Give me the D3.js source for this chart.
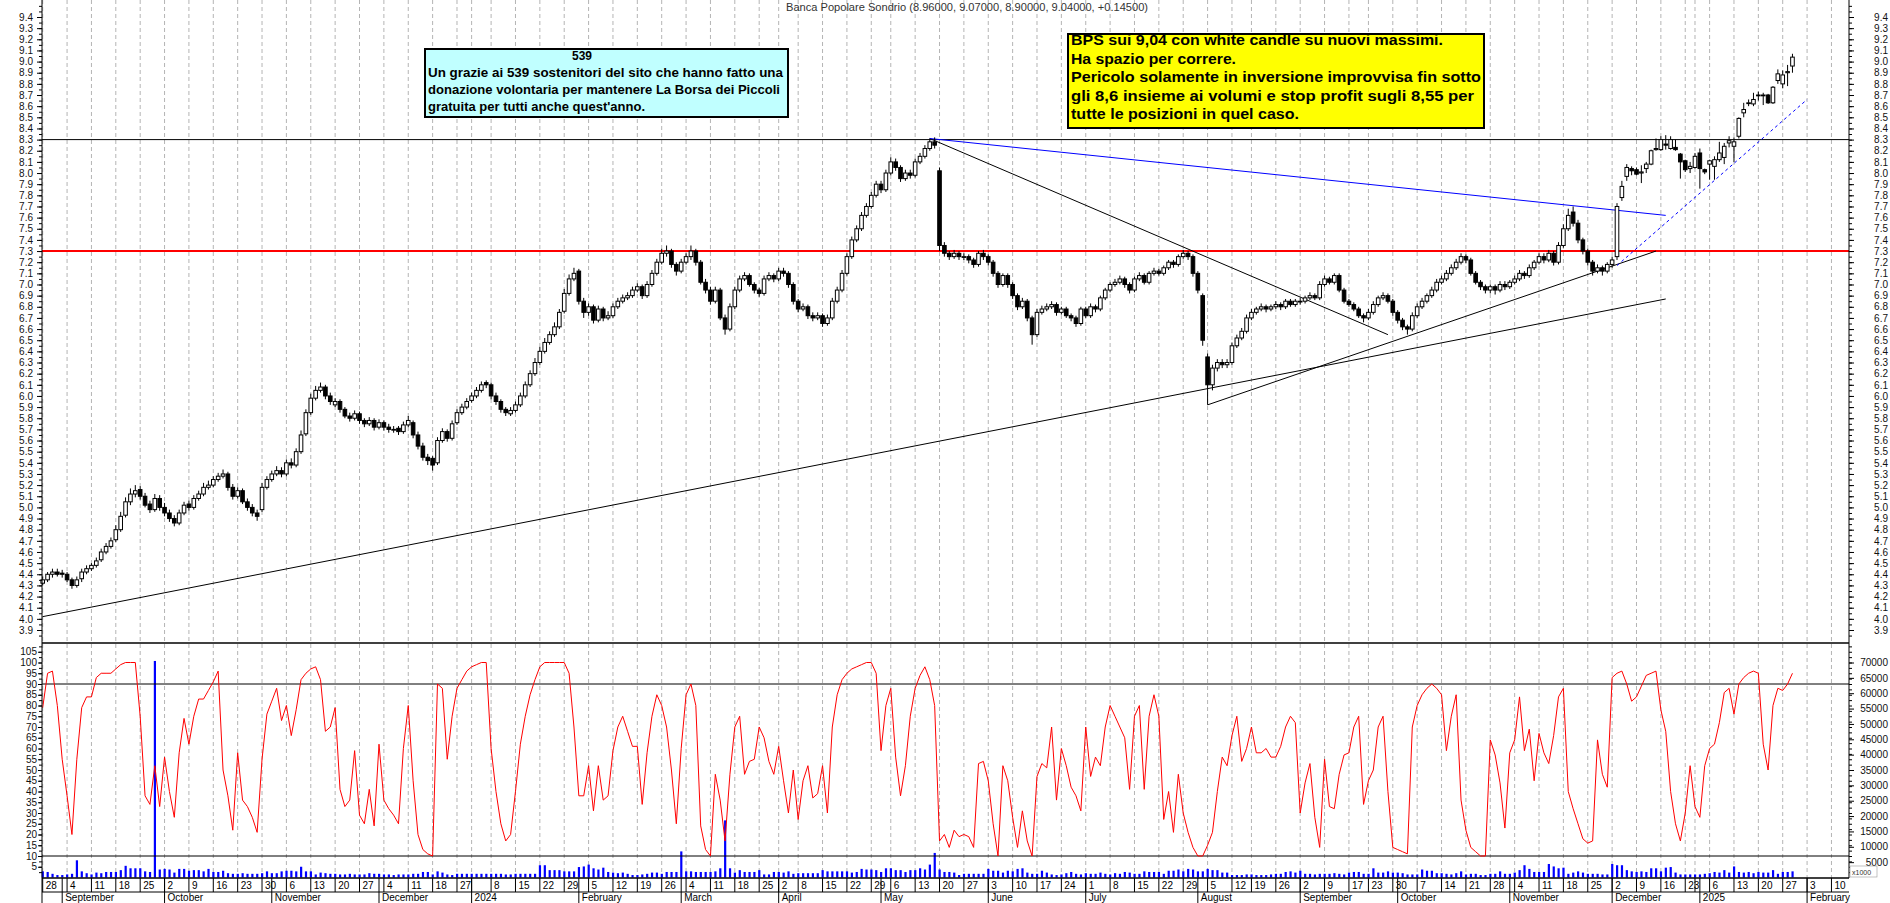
<!DOCTYPE html>
<html>
<head>
<meta charset="utf-8">
<title>Banca Popolare Sondrio</title>
<script src="https://cdn.jsdelivr.net/npm/d3@7"></script>
<style>
  body { margin: 0; background: #fff; }
  svg { display: block; font-family: "Liberation Sans", Arial, sans-serif; }
</style>
</head>
<body>
<svg id="chart" width="1890" height="903"></svg>
<script>
// ---------- data ----------
const firstDay = "2023-08-28", lastDay = "2025-02-13";
// Borsa closed (plus one day missing in the feed)
const closedDays = ["2023-12-25","2023-12-26","2024-01-01","2024-03-29","2024-04-01","2024-05-01",
  "2024-08-15","2024-09-16","2024-12-24","2024-12-25","2024-12-26","2024-12-31","2025-01-01"];

const open = [
 4.32,4.35,4.40,4.42,4.41,4.40,4.35,4.30,4.36,4.42,4.45,4.48,4.53,4.60,4.65,4.71,4.80,4.93,5.05,5.12,
 5.16,5.10,5.03,4.98,5.08,5.00,4.95,4.90,4.86,4.95,5.03,5.00,5.08,5.12,5.18,5.20,5.25,5.28,5.30,5.18,
 5.10,5.15,5.05,5.00,4.95,4.98,5.18,5.25,5.30,5.33,5.30,5.40,5.38,5.50,5.66,5.85,5.98,6.05,6.08,6.00,
 5.92,5.95,5.88,5.82,5.80,5.84,5.78,5.75,5.78,5.72,5.76,5.72,5.70,5.71,5.68,5.74,5.76,5.65,5.55,5.45,
 5.44,5.40,5.60,5.68,5.62,5.76,5.85,5.90,5.96,6.00,6.05,6.12,6.10,6.00,5.95,5.88,5.84,5.87,5.92,6.00,
 6.10,6.20,6.30,6.40,6.48,6.55,6.62,6.76,6.92,7.05,7.12,6.85,6.75,6.80,6.68,6.78,6.70,6.72,6.80,6.85,
 6.88,6.90,6.95,6.98,6.90,7.00,7.10,7.20,7.28,7.30,7.18,7.12,7.20,7.25,7.30,7.20,7.02,6.95,6.85,6.95,
 6.70,6.60,6.80,6.95,7.05,7.08,7.00,6.95,6.92,7.05,7.08,7.05,7.12,7.10,7.00,6.85,6.78,6.80,6.72,6.70,
 6.72,6.65,6.70,6.85,6.95,7.10,7.25,7.40,7.50,7.62,7.70,7.80,7.90,7.85,8.00,8.10,8.05,7.95,8.00,7.98,
 8.10,8.15,8.22,8.28,8.02,7.35,7.28,7.25,7.28,7.25,7.25,7.22,7.18,7.28,7.25,7.20,7.10,7.00,7.08,7.00,
 6.90,6.80,6.85,6.70,6.55,6.75,6.78,6.80,6.82,6.75,6.78,6.72,6.70,6.65,6.78,6.72,6.80,6.78,6.88,6.95,
 7.00,7.02,7.05,7.00,6.95,7.05,7.08,7.02,7.10,7.12,7.10,7.15,7.20,7.18,7.25,7.28,7.25,7.10,6.90,6.35,
 6.10,6.25,6.30,6.28,6.30,6.45,6.52,6.58,6.70,6.75,6.78,6.80,6.78,6.80,6.82,6.80,6.85,6.82,6.85,6.85,
 6.88,6.90,6.88,7.00,7.05,7.02,7.08,6.95,6.85,6.82,6.78,6.72,6.70,6.75,6.82,6.88,6.90,6.85,6.75,6.68,
 6.62,6.60,6.72,6.80,6.85,6.90,6.95,7.02,7.05,7.10,7.15,7.20,7.25,7.22,7.10,7.02,6.98,6.95,6.98,6.95,
 7.00,6.98,7.02,7.05,7.10,7.08,7.15,7.20,7.25,7.22,7.28,7.20,7.35,7.50,7.65,7.55,7.40,7.30,7.20,7.12,
 7.15,7.12,7.18,7.25,7.78,7.97,8.04,8.03,8.00,8.04,8.08,8.21,8.21,8.26,8.22,8.23,8.17,8.11,8.04,8.05,
 8.18,8.03,8.08,8.06,8.12,8.14,8.27,8.24,8.33,8.54,8.63,8.62,8.70,8.70,8.70,8.63,8.83,8.80,8.90,8.96];

const high = [
 4.38,4.42,4.45,4.45,4.44,4.42,4.37,4.38,4.45,4.48,4.50,4.55,4.63,4.68,4.73,4.84,4.96,5.09,5.17,5.20,
 5.19,5.13,5.06,5.12,5.11,5.04,4.98,4.93,4.98,5.05,5.06,5.11,5.15,5.22,5.24,5.28,5.31,5.34,5.32,5.21,
 5.18,5.17,5.08,5.03,4.98,5.22,5.28,5.33,5.37,5.36,5.43,5.44,5.53,5.69,5.88,6.02,6.09,6.12,6.10,6.03,
 5.98,5.97,5.90,5.85,5.87,5.86,5.80,5.81,5.80,5.79,5.78,5.75,5.73,5.73,5.77,5.82,5.78,5.68,5.58,5.48,
 5.46,5.63,5.71,5.70,5.78,5.88,5.93,5.98,6.03,6.08,6.13,6.14,6.12,6.03,5.97,5.90,5.90,5.95,6.03,6.13,
 6.23,6.34,6.44,6.52,6.58,6.66,6.78,6.96,7.09,7.15,7.14,6.88,6.83,6.82,6.81,6.80,6.76,6.83,6.88,6.91,
 6.93,6.98,7.01,7.00,7.03,7.13,7.23,7.32,7.35,7.32,7.20,7.23,7.28,7.35,7.32,7.22,7.05,6.98,6.98,6.97,
 6.73,6.83,6.98,7.08,7.11,7.10,7.02,6.97,7.08,7.11,7.10,7.15,7.15,7.12,7.02,6.87,6.83,6.82,6.75,6.75,
 6.74,6.73,6.88,6.98,7.13,7.28,7.43,7.53,7.65,7.73,7.83,7.93,7.93,8.03,8.14,8.13,8.07,8.03,8.03,8.13,
 8.18,8.25,8.31,8.32,8.05,7.38,7.30,7.31,7.30,7.28,7.27,7.24,7.30,7.31,7.27,7.22,7.12,7.10,7.10,7.02,
 6.92,6.88,6.87,6.72,6.78,6.81,6.83,6.85,6.84,6.80,6.80,6.74,6.72,6.80,6.80,6.83,6.82,6.90,6.97,7.02,
 7.05,7.08,7.07,7.02,7.07,7.11,7.10,7.12,7.15,7.14,7.17,7.22,7.22,7.27,7.31,7.30,7.27,7.12,6.92,6.38,
 6.28,6.33,6.33,6.33,6.48,6.55,6.61,6.73,6.78,6.80,6.83,6.82,6.82,6.85,6.84,6.87,6.87,6.87,6.88,6.90,
 6.93,6.92,7.03,7.08,7.07,7.10,7.10,6.97,6.87,6.84,6.80,6.74,6.78,6.85,6.90,6.93,6.92,6.87,6.77,6.70,
 6.64,6.75,6.83,6.88,6.92,6.98,7.05,7.08,7.13,7.18,7.23,7.28,7.27,7.24,7.12,7.04,7.00,7.00,7.00,7.03,
 7.03,7.04,7.08,7.13,7.12,7.18,7.22,7.28,7.28,7.31,7.30,7.38,7.54,7.68,7.70,7.58,7.42,7.32,7.22,7.18,
 7.17,7.20,7.25,7.73,7.93,8.08,8.06,8.05,8.07,8.10,8.21,8.31,8.33,8.34,8.33,8.30,8.18,8.12,8.10,8.18,
 8.22,8.04,8.12,8.15,8.28,8.27,8.33,8.32,8.50,8.63,8.66,8.72,8.73,8.72,8.71,8.78,8.93,8.92,8.97,9.07];

const low = [
 4.30,4.33,4.37,4.38,4.37,4.33,4.27,4.28,4.33,4.40,4.43,4.46,4.51,4.58,4.63,4.69,4.78,4.91,5.02,5.09,
 5.07,5.00,4.95,4.96,4.97,4.92,4.87,4.83,4.84,4.93,4.97,4.98,5.06,5.10,5.16,5.18,5.23,5.26,5.15,5.07,
 5.08,5.03,4.97,4.92,4.88,4.96,5.16,5.23,5.28,5.27,5.28,5.35,5.36,5.48,5.64,5.83,5.96,6.03,5.97,5.92,
 5.90,5.85,5.80,5.77,5.78,5.75,5.72,5.73,5.69,5.70,5.69,5.67,5.67,5.65,5.66,5.72,5.62,5.52,5.42,5.38,
 5.33,5.38,5.58,5.59,5.60,5.74,5.83,5.88,5.94,5.98,6.03,6.07,5.97,5.92,5.85,5.82,5.82,5.85,5.90,5.98,
 6.08,6.18,6.28,6.38,6.46,6.53,6.60,6.74,6.90,7.03,6.82,6.70,6.72,6.65,6.66,6.67,6.68,6.70,6.78,6.83,
 6.86,6.88,6.93,6.87,6.88,6.98,7.08,7.18,7.25,7.15,7.08,7.10,7.18,7.22,7.17,7.00,6.92,6.82,6.83,6.68,
 6.55,6.58,6.78,6.93,7.03,6.98,6.92,6.89,6.90,7.03,7.02,7.03,7.07,6.97,6.82,6.75,6.76,6.69,6.67,6.68,
 6.62,6.63,6.68,6.83,6.93,7.08,7.23,7.38,7.48,7.60,7.68,7.78,7.82,7.83,7.98,8.02,7.92,7.93,7.95,7.96,
 8.08,8.13,8.20,8.22,7.30,7.25,7.22,7.23,7.22,7.22,7.19,7.15,7.16,7.22,7.17,7.07,6.97,6.98,6.97,6.87,
 6.77,6.78,6.67,6.46,6.53,6.73,6.76,6.78,6.72,6.73,6.70,6.67,6.62,6.63,6.70,6.70,6.75,6.76,6.86,6.93,
 6.98,7.00,6.97,6.92,6.93,7.03,7.00,7.00,7.08,7.08,7.08,7.13,7.15,7.16,7.23,7.22,7.07,6.92,6.45,5.92,
 6.05,6.22,6.25,6.25,6.28,6.43,6.50,6.56,6.68,6.73,6.76,6.75,6.76,6.78,6.77,6.78,6.80,6.80,6.82,6.83,
 6.86,6.86,6.86,6.98,7.00,7.00,6.93,6.83,6.80,6.76,6.70,6.66,6.68,6.73,6.80,6.86,6.83,6.72,6.65,6.59,
 6.55,6.58,6.70,6.78,6.83,6.88,6.93,7.00,7.03,7.08,7.13,7.18,7.19,7.08,7.00,6.95,6.92,6.92,6.91,6.93,
 6.95,6.96,7.00,7.03,7.05,7.06,7.13,7.18,7.19,7.20,7.17,7.18,7.33,7.48,7.52,7.37,7.27,7.17,7.08,7.10,
 7.08,7.10,7.15,7.22,7.75,7.93,7.98,7.98,7.91,8.00,8.07,8.20,8.20,8.21,8.21,8.20,7.95,8.01,8.00,8.04,
 7.86,7.99,7.94,7.94,8.10,8.08,8.23,8.10,8.31,8.50,8.60,8.60,8.65,8.61,8.62,8.62,8.80,8.76,8.78,8.90];

const close = [
 4.35,4.40,4.42,4.40,4.40,4.35,4.30,4.35,4.42,4.45,4.48,4.52,4.60,4.65,4.70,4.80,4.92,5.05,5.12,5.15,
 5.10,5.02,4.98,5.08,5.00,4.95,4.90,4.86,4.95,5.02,5.00,5.08,5.12,5.18,5.20,5.25,5.28,5.30,5.18,5.10,
 5.15,5.05,5.00,4.95,4.92,5.18,5.25,5.30,5.33,5.30,5.40,5.38,5.50,5.65,5.85,5.98,6.05,6.08,6.00,5.95,
 5.95,5.88,5.82,5.80,5.84,5.78,5.75,5.78,5.72,5.76,5.72,5.70,5.70,5.68,5.74,5.78,5.65,5.55,5.45,5.42,
 5.38,5.60,5.68,5.62,5.75,5.85,5.90,5.95,6.00,6.05,6.10,6.10,6.00,5.95,5.88,5.85,5.87,5.92,6.00,6.10,
 6.20,6.30,6.40,6.48,6.55,6.62,6.75,6.92,7.05,7.10,6.85,6.75,6.80,6.68,6.78,6.70,6.72,6.80,6.85,6.88,
 6.90,6.95,6.98,6.90,7.00,7.10,7.20,7.28,7.30,7.18,7.12,7.20,7.25,7.30,7.20,7.02,6.95,6.85,6.95,6.70,
 6.60,6.80,6.95,7.05,7.08,7.00,6.95,6.92,7.05,7.08,7.05,7.12,7.10,7.00,6.85,6.78,6.80,6.72,6.70,6.72,
 6.65,6.70,6.85,6.95,7.10,7.25,7.40,7.50,7.62,7.70,7.80,7.90,7.85,8.00,8.10,8.05,7.95,8.00,7.98,8.10,
 8.15,8.22,8.28,8.25,7.35,7.28,7.25,7.28,7.25,7.25,7.22,7.18,7.28,7.25,7.20,7.10,7.00,7.08,7.00,6.90,
 6.80,6.85,6.70,6.55,6.75,6.78,6.80,6.82,6.75,6.78,6.72,6.70,6.65,6.78,6.72,6.80,6.78,6.88,6.95,7.00,
 7.02,7.05,7.00,6.95,7.05,7.08,7.02,7.10,7.12,7.10,7.15,7.20,7.18,7.25,7.28,7.25,7.10,6.95,6.50,6.10,
 6.25,6.30,6.28,6.30,6.45,6.52,6.58,6.70,6.75,6.78,6.80,6.78,6.80,6.82,6.80,6.85,6.82,6.85,6.85,6.88,
 6.90,6.88,7.00,7.05,7.02,7.08,6.95,6.85,6.82,6.78,6.72,6.70,6.75,6.82,6.88,6.90,6.85,6.75,6.68,6.62,
 6.60,6.72,6.80,6.85,6.90,6.95,7.02,7.05,7.10,7.15,7.20,7.25,7.22,7.10,7.02,6.98,6.95,6.98,6.95,7.00,
 6.98,7.02,7.05,7.10,7.08,7.15,7.20,7.25,7.22,7.28,7.20,7.35,7.50,7.62,7.55,7.40,7.30,7.20,7.12,7.15,
 7.12,7.18,7.22,7.70,7.88,8.05,8.02,7.99,8.01,8.08,8.20,8.22,8.30,8.25,8.30,8.21,8.10,8.03,8.06,8.15,
 8.04,8.01,8.11,8.12,8.18,8.24,8.29,8.28,8.49,8.57,8.63,8.66,8.70,8.70,8.63,8.77,8.89,8.88,8.91,9.04];

// oscillator (left scale, 0-100)
const stoch = [
 79,95,96,80,55,38,20,55,79,84,84,93,95,95,95,97,99,100,100,100,
 75,38,34,52,33,56,40,28,58,74,62,75,83,83,87,91,96,50,38,22,
 58,36,33,28,21,55,76,82,88,73,80,66,78,92,95,97,98,92,68,70,
 79,41,33,36,59,29,25,41,24,62,36,32,29,25,60,80,45,20,13,11,
 10,90,88,55,75,88,92,96,98,99,100,100,60,40,25,17,20,40,62,75,
 85,92,98,100,100,100,100,100,95,70,38,38,52,31,52,36,38,59,70,75,
 68,61,61,34,58,75,85,80,70,50,25,60,85,90,80,24,13,10,48,36,
 17,48,70,75,48,54,55,70,65,54,48,61,45,30,50,27,45,52,37,39,
 52,30,70,85,92,95,97,98,99,100,100,95,59,80,88,56,38,52,75,88,
 94,98,92,80,17,20,14,22,19,20,19,14,53,54,45,25,10,52,45,28,
 14,31,17,10,47,53,51,70,36,60,52,42,38,31,70,47,56,52,70,80,
 75,70,65,41,75,80,41,75,85,75,27,40,21,48,30,21,14,10,10,15,
 21,40,56,52,66,75,54,60,70,58,58,60,56,56,61,70,75,72,30,44,
 53,28,14,55,33,32,48,57,58,70,75,34,45,50,70,75,40,14,13,12,
 11,70,80,85,88,90,88,85,59,75,85,36,22,14,12,10,10,64,57,44,
 23,58,64,84,59,69,45,67,58,53,66,84,88,40,32,25,18,16,17,64,
 48,42,93,95,96,90,82,84,89,94,95,96,78,68,40,25,17,30,52,33,
 28,52,60,62,72,86,88,76,90,93,95,96,95,62,50,80,88,87,90,95];

// volume, thousands of shares (right scale, x1000)
const volume = [
 2.0,1.8,1.2,0.8,0.8,1.0,1.2,5.6,2.0,1.4,1.0,1.6,1.4,1.8,1.8,1.8,2.4,3.8,3.0,3.0,
 3.0,2.0,1.8,70.5,2.6,2.8,2.6,1.6,2.8,2.8,2.2,2.4,2.4,2.0,2.8,1.8,1.8,2.2,1.4,1.2,
 1.2,1.4,1.2,1.2,1.2,1.4,2.0,1.4,1.4,2.0,2.2,2.2,2.0,3.5,2.0,2.0,1.0,1.6,1.4,1.2,
 1.2,1.0,1.0,1.2,1.0,1.0,1.0,1.4,1.2,1.2,1.0,1.0,0.8,1.0,1.0,1.0,1.2,1.2,1.8,1.8,
 1.0,2.0,1.6,1.0,0.8,1.2,1.2,1.2,1.2,1.2,1.2,1.2,1.2,1.2,1.2,1.0,1.0,1.2,1.2,1.2,
 1.2,1.2,4.0,4.0,2.4,2.4,2.4,2.0,2.0,2.0,3.4,3.6,4.2,3.0,2.6,3.2,1.8,1.6,1.4,1.6,
 1.2,0.8,0.8,1.0,1.2,1.6,1.6,1.2,1.8,1.8,1.8,8.5,2.0,2.0,1.8,1.8,1.8,1.8,2.0,3.0,
 18.6,3.0,1.6,2.4,1.8,1.8,1.8,2.4,1.0,1.0,1.8,1.8,1.6,2.0,1.2,1.4,1.4,1.4,1.4,1.4,
 2.4,2.0,2.0,2.0,2.0,2.0,1.6,1.8,2.8,2.6,2.6,2.4,1.8,3.0,3.0,2.4,2.4,1.8,2.4,2.4,
 3.0,2.6,4.2,8.0,2.6,1.8,1.8,1.6,0.8,1.2,1.2,1.2,1.2,1.2,2.8,2.2,2.2,1.6,2.2,2.0,
 2.8,3.0,1.6,1.2,1.2,2.2,1.6,1.0,0.8,1.0,1.4,1.8,1.2,1.0,1.4,1.2,1.2,1.6,1.2,1.0,
 1.4,1.2,1.8,1.6,1.2,1.2,2.0,1.8,1.8,1.8,1.2,2.2,2.2,2.6,2.0,2.8,2.6,2.0,2.0,2.8,
 2.4,2.4,1.6,1.6,0.8,0.8,0.8,1.0,1.0,0.8,0.8,0.8,1.0,1.2,1.2,1.8,2.0,1.6,2.2,1.2,
 1.2,1.0,1.2,1.2,1.2,1.4,1.2,1.0,1.6,1.8,1.8,1.2,1.2,3.0,1.6,1.6,2.0,1.6,1.6,1.4,
 1.0,1.0,1.0,2.6,2.2,2.2,1.4,1.4,1.2,1.0,1.4,2.0,1.0,1.2,1.2,0.8,0.8,1.2,1.2,2.0,
 1.2,1.2,1.6,2.4,4.0,2.8,1.8,1.8,1.8,4.4,3.6,3.0,3.2,1.2,1.6,2.0,1.6,1.2,1.2,1.2,
 1.0,1.0,4.4,4.0,4.0,2.4,2.0,1.8,2.0,1.8,3.0,3.0,2.0,3.2,3.4,1.6,1.0,1.0,1.0,1.0,
 1.0,1.2,1.4,1.8,1.6,2.4,1.6,3.6,1.8,1.6,1.8,1.4,1.8,1.6,1.6,2.4,1.2,1.8,1.8,2.0];

const priceLabels = d3.range(39, 95).map(v => v / 10);
const stochLabels = d3.range(5, 110, 5);
const volLabels = d3.range(5, 75, 5);          // thousands
const monthNames = ["January","February","March","April","May","June","July",
  "August","September","October","November","December"];

// drawn levels and trendlines (date, price)
const levels = [{ price: 8.3, color: "#000", width: 1 }, { price: 7.3, color: "#ff0000", width: 2 }];
const trendLines = [
  { from: ["2023-08-28", 4.02], to: ["2024-12-17", 6.87], color: "#000", dash: null },
  { from: ["2024-08-05", 5.92], to: ["2024-12-13", 7.30], color: "#000", dash: null },
  { from: ["2024-05-16", 8.31], to: ["2024-09-27", 6.55], color: "#000", dash: null },
  { from: ["2024-05-16", 8.31], to: ["2024-12-17", 7.62], color: "#0000ff", dash: null },
  { from: ["2024-12-03", 7.17], to: ["2025-02-03", 8.66], color: "#0000ff", dash: "3,3" }
];
const stochLevels = [90, 10];

const title = "Banca Popolare Sondrio (8.96000, 9.07000, 8.90000, 9.04000, +0.14500)";
const noteCyan = ["539",
  "Un grazie ai 539 sostenitori del sito che hanno fatto una",
  "donazione volontaria per mantenere La Borsa dei Piccoli",
  "gratuita per tutti anche quest'anno."];
const noteYellow = ["BPS sui 9,04 con white candle su nuovi massimi.",
  "Ha spazio per correre.",
  "Pericolo solamente in inversione improvvisa fin sotto",
  "gli 8,6 insieme ai volumi e stop profit sugli 8,55 per",
  "tutte le posizioni in quel caso."];

// ---------- layout ----------
const svg = d3.select("#chart");
const L = 42, R = 1849, sepY = 643, baseY = 878;
const parse = d3.utcParse("%Y-%m-%d"), fmt = d3.utcFormat("%Y-%m-%d");
const days = d3.utcDays(parse(firstDay), d3.utcDay.offset(parse(lastDay), 1))
  .filter(d => d.getUTCDay() !== 0 && d.getUTCDay() !== 6 && !closedDays.includes(fmt(d)));
const dayIndex = s => days.findIndex(d => fmt(d) === s);
const N = Math.min(open.length, high.length, low.length, close.length);

const x = d3.scalePoint().domain(d3.range(days.length)).range([42.7, 42.7 + (days.length - 1) * 4.874]);
const yP = d3.scaleLinear().domain([3.9, 9.4]).range([630, 17]);
const yS = d3.scaleLinear().domain([0, 100]).range([877.5, 662.5]);
const yV = d3.scaleLinear().domain([0, 70]).range([877.5, 662.5]);

const weekStarts = d3.range(days.length).filter(i => i === 0 ||
  +d3.utcMonday.floor(days[i]) !== +d3.utcMonday.floor(days[i - 1]));
const monthStarts = d3.range(1, days.length).filter(i => days[i].getUTCMonth() !== days[i - 1].getUTCMonth());

// vertical dashed grid
svg.append("g").selectAll("line").data(weekStarts).join("line")
  .attr("x1", i => x(i)).attr("x2", i => x(i)).attr("y1", 0).attr("y2", baseY)
  .attr("stroke", "#b4b4b4").attr("stroke-dasharray", "4,3");

// levels
svg.append("g").selectAll("line").data(levels).join("line")
  .attr("x1", L).attr("x2", R).attr("y1", d => yP(d.price)).attr("y2", d => yP(d.price))
  .attr("stroke", d => d.color).attr("stroke-width", d => d.width);

// trendlines
svg.append("g").selectAll("line").data(trendLines).join("line")
  .attr("x1", d => x(dayIndex(d.from[0]))).attr("y1", d => yP(d.from[1]))
  .attr("x2", d => x(dayIndex(d.to[0]))).attr("y2", d => yP(d.to[1]))
  .attr("stroke", d => d.color).attr("stroke-width", 1)
  .attr("stroke-dasharray", d => d.dash);

// candles
const idx = d3.range(N);
const cg = svg.append("g");
cg.selectAll("line").data(idx).join("line")
  .attr("x1", i => x(i)).attr("x2", i => x(i))
  .attr("y1", i => yP(high[i])).attr("y2", i => yP(low[i]))
  .attr("stroke", "#000");
cg.selectAll("rect").data(idx).join("rect")
  .attr("x", i => x(i) - 1.8).attr("width", 3.6)
  .attr("y", i => yP(Math.max(open[i], close[i])))
  .attr("height", i => Math.max(Math.abs(yP(open[i]) - yP(close[i])), 0.8))
  .attr("fill", i => close[i] >= open[i] ? "#fff" : "#000")
  .attr("stroke", "#000").attr("stroke-width", 1);

// lower panel: volume and oscillator
svg.append("g").selectAll("rect").data(volume.slice(0, N)).join("rect")
  .attr("x", (v, i) => x(i) - 1).attr("width", 2.2)
  .attr("y", v => yV(v)).attr("height", v => yV(0) - yV(v))
  .attr("fill", "#0000ff");
svg.append("g").selectAll("line").data(stochLevels).join("line")
  .attr("x1", L).attr("x2", R).attr("y1", d => yS(d)).attr("y2", d => yS(d))
  .attr("stroke", "#000");
svg.append("path").datum(stoch.slice(0, N))
  .attr("fill", "none").attr("stroke", "#ff0000").attr("stroke-width", 1)
  .attr("d", d3.line().x((d, i) => x(i)).y(d => yS(d)));

// frame
const frame = svg.append("g").attr("stroke", "#000");
frame.append("line").attr("x1", L).attr("x2", L).attr("y1", 0).attr("y2", 903);
frame.append("line").attr("x1", R).attr("x2", R).attr("y1", 0).attr("y2", baseY);
frame.append("line").attr("x1", L).attr("x2", R).attr("y1", sepY).attr("y2", sepY).attr("stroke-width", 1.3);
frame.append("line").attr("x1", L).attr("x2", R).attr("y1", baseY).attr("y2", baseY).attr("stroke-width", 1.3);
frame.append("line").attr("x1", L).attr("x2", R).attr("y1", 892).attr("y2", 892);

// axes
function styleAxis(g) {
  g.select(".domain").remove();
  g.selectAll("text").attr("fill", "#111").style("font-size", "10px")
    .style("font-family", "'Liberation Sans', Arial, sans-serif");
}
const minorP = d3.range(77, 191).map(v => v / 20);
const minorS = d3.range(1, 44).map(v => v * 2.5);
svg.append("g").attr("transform", `translate(${L},0)`)
  .call(d3.axisLeft(yP).tickValues(minorP).tickSize(3).tickFormat("")).call(styleAxis);
svg.append("g").attr("transform", `translate(${L},0)`)
  .call(d3.axisLeft(yP).tickValues(priceLabels).tickSize(5).tickPadding(4).tickFormat(d3.format(".1f")))
  .call(styleAxis);
svg.append("g").attr("transform", `translate(${R},0)`)
  .call(d3.axisRight(yP).tickValues(minorP).tickSize(3).tickFormat("")).call(styleAxis);
svg.append("g").attr("transform", `translate(${R},0)`)
  .call(d3.axisRight(yP).tickValues(priceLabels).tickSize(5).tickFormat(d3.format(".1f")))
  .call(styleAxis)
  .call(g => g.selectAll("text").attr("text-anchor", "end").attr("x", 1888 - R));

svg.append("g").attr("transform", `translate(${L},0)`)
  .call(d3.axisLeft(yS).tickValues(minorS).tickSize(3).tickFormat("")).call(styleAxis);
svg.append("g").attr("transform", `translate(${L},0)`)
  .call(d3.axisLeft(yS).tickValues(stochLabels).tickSize(4).tickPadding(1)).call(styleAxis);
svg.append("g").attr("transform", `translate(${R},0)`)
  .call(d3.axisRight(yV).tickValues(minorS.map(v => v * 0.7)).tickSize(3).tickFormat("")).call(styleAxis);
svg.append("g").attr("transform", `translate(${R},0)`)
  .call(d3.axisRight(yV).tickValues(volLabels).tickSize(5).tickFormat(v => v * 1000))
  .call(styleAxis)
  .call(g => g.selectAll("text").attr("text-anchor", "end").attr("x", 1888 - R));

// x1000 tag
svg.append("rect").attr("x", 1850).attr("y", 866).attr("width", 27).attr("height", 11)
  .attr("fill", "#fff").attr("stroke", "#999").attr("stroke-width", 0.6);
svg.append("text").attr("x", 1852).attr("y", 874.5).text("x1000")
  .style("font-size", "7px").attr("fill", "#333");

// date axis
const yearChange = new Set(d3.range(1, days.length)
  .filter(i => days[i].getUTCFullYear() !== days[i - 1].getUTCFullYear())
  .map(i => +d3.utcMonday.floor(days[i])));
const da = svg.append("g");
da.selectAll("line.w").data(weekStarts).join("line")
  .attr("x1", i => x(i)).attr("x2", i => x(i)).attr("y1", baseY).attr("y2", 892).attr("stroke", "#000");
da.selectAll("line.m").data(monthStarts).join("line")
  .attr("x1", i => x(i)).attr("x2", i => x(i)).attr("y1", baseY).attr("y2", 903).attr("stroke", "#000");
da.selectAll("text.d").data(weekStarts.filter(i => !yearChange.has(+d3.utcMonday.floor(days[i]))))
  .join("text").attr("x", i => x(i) + 3).attr("y", 889)
  .style("font-size", "10px").attr("fill", "#000")
  .text(i => days[i].getUTCDate());
da.selectAll("text.m").data(monthStarts).join("text")
  .attr("x", i => x(i) + 3).attr("y", 901)
  .style("font-size", "10px").attr("fill", "#000")
  .text(i => days[i].getUTCMonth() === 0 ? days[i].getUTCFullYear() : monthNames[days[i].getUTCMonth()]);

// title
svg.append("text").attr("x", 786).attr("y", 10.5).text(title)
  .style("font-size", "10.5px").attr("fill", "#333")
  .attr("textLength", 362).attr("lengthAdjust", "spacingAndGlyphs");

// notes
function note(lines, box, fill, fontSize, lineH, widths, firstCentered) {
  const g = svg.append("g");
  g.append("rect").attr("x", box[0]).attr("y", box[1]).attr("width", box[2]).attr("height", box[3])
    .attr("fill", fill).attr("stroke", "#000").attr("stroke-width", 2);
  lines.forEach((t, k) => {
    const tx = g.append("text").attr("y", box[1] + 11 + k * lineH)
      .style("font-size", fontSize + "px").style("font-weight", "bold").attr("fill", "#000").text(t);
    if (k === 0 && firstCentered) tx.attr("x", firstCentered).attr("text-anchor", "middle");
    else tx.attr("x", box[0] + 3);
    if (widths[k]) tx.attr("textLength", widths[k]).attr("lengthAdjust", "spacingAndGlyphs");
  });
}
note(noteCyan, [425, 49, 363, 68], "#c0ffff", 12, 17, [0, 355, 352, 217], 582);
note(noteYellow, [1068, 34, 416, 94], "#ffff00", 14.5, 18.6, [372, 165, 410, 403, 228], null);
</script>
</body>
</html>
